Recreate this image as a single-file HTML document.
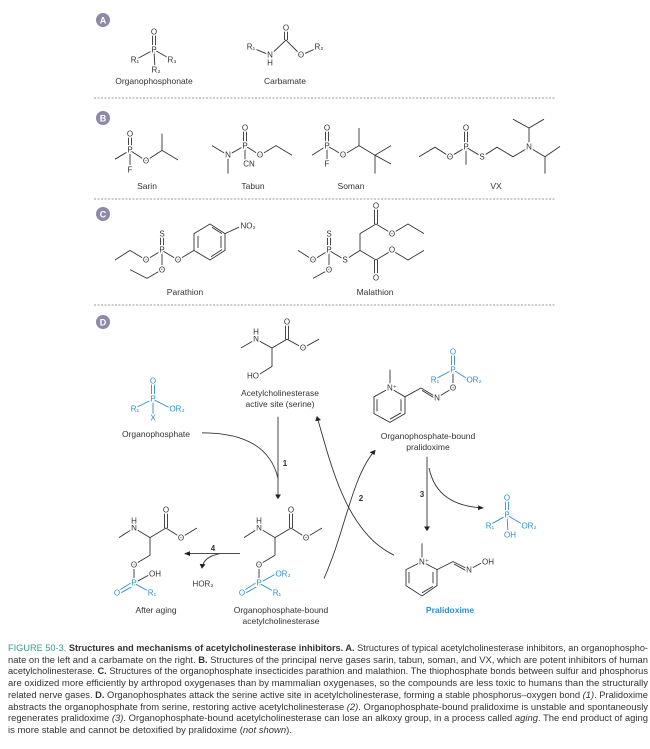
<!DOCTYPE html>
<html><head><meta charset="utf-8"><style>
html,body{margin:0;padding:0;background:#fff;}
svg{display:block;}
.b line,.b polyline,.b path,.b polygon{stroke:#333;stroke-width:0.9;fill:none;vector-effect:non-scaling-stroke;}
.bl line,.bl polyline{stroke:#2a8fd0;stroke-width:0.9;fill:none;vector-effect:non-scaling-stroke;}
text{font-family:"Liberation Sans",sans-serif;}
.a{font-size:8px;fill:#333;text-anchor:middle;dominant-baseline:central;paint-order:stroke;stroke:#fff;stroke-width:3px;}
.ab{font-size:8px;fill:#2a8fd0;text-anchor:middle;dominant-baseline:central;paint-order:stroke;stroke:#fff;stroke-width:3px;}
.l{font-size:8.5px;fill:#333;text-anchor:middle;}
.cap{font-size:9.6px;fill:#333;}
</style></head><body>
<svg width="650" height="749" viewBox="0 0 650 749" xmlns="http://www.w3.org/2000/svg">
<defs><marker id="ar" markerWidth="6" markerHeight="6" refX="5" refY="3" orient="auto" markerUnits="userSpaceOnUse"><path d="M0,0 L6,3 L0,6 Z" fill="#222"/></marker></defs>

<!-- section circles -->
<g font-size="9" font-weight="bold" fill="#fff" text-anchor="middle">
<circle cx="103" cy="20" r="7" fill="#8c8aa8"/><text x="103" y="23.5">A</text>
<circle cx="103" cy="118" r="7" fill="#8c8aa8"/><text x="103" y="121.5">B</text>
<circle cx="103" cy="214" r="7" fill="#8c8aa8"/><text x="103" y="217.5">C</text>
<circle cx="103" cy="322" r="7" fill="#8c8aa8"/><text x="103" y="325.5">D</text>
</g>
<g stroke="#999" stroke-width="1" stroke-dasharray="2,1.5">
<line x1="94" y1="98" x2="556" y2="98"/><line x1="94" y1="199" x2="556" y2="199"/><line x1="94" y1="305" x2="556" y2="305"/>
</g>

<!-- geometry A-C -->
<g transform="matrix(1 0 0 0.8 0 0)">
<g class="b">
<line x1="152.5" y1="40" x2="152.5" y2="62"/><line x1="155.5" y1="40" x2="155.5" y2="62"/>
<polyline points="135,75 154,62 172,75"/><line x1="154" y1="62" x2="155" y2="87"/>
<line x1="284.5" y1="35" x2="284.5" y2="50"/><line x1="287.5" y1="35" x2="287.5" y2="50"/>
<polyline points="251,59 270,69 286,50 301,69 319,59"/><line x1="270" y1="69" x2="270" y2="79"/>

<line x1="128.5" y1="167" x2="128.5" y2="188"/><line x1="131.5" y1="167" x2="131.5" y2="188"/>
<polyline points="115,199 130,188 146,201 162,188 178,200"/><line x1="162" y1="188" x2="162" y2="167"/><line x1="130" y1="188" x2="130" y2="212"/>
<line x1="243.5" y1="160" x2="243.5" y2="182"/><line x1="246.5" y1="160" x2="246.5" y2="182"/>
<polyline points="212,182 228,194 245,182 260,194 276,182 292,194"/><line x1="228" y1="194" x2="228" y2="217"/><line x1="245" y1="182" x2="245" y2="205"/>
<line x1="325.5" y1="160" x2="325.5" y2="182"/><line x1="328.5" y1="160" x2="328.5" y2="182"/>
<polyline points="312,194 327,182 343,194 359,182 375,194 391,182"/><line x1="327" y1="182" x2="327" y2="205"/><line x1="359" y1="182" x2="359" y2="160"/><line x1="375" y1="194" x2="391" y2="205"/><line x1="375" y1="194" x2="375" y2="217"/>
<line x1="464.5" y1="160" x2="464.5" y2="184"/><line x1="467.5" y1="160" x2="467.5" y2="184"/>
<polyline points="419,196 435,184 450,196 466,184 482,196 497,184 513,196 529,184"/><line x1="466" y1="184" x2="466" y2="206"/>
<line x1="529" y1="184" x2="529" y2="160"/><polyline points="513,149 529,160 544,149"/>
<line x1="529" y1="184" x2="545" y2="196"/><line x1="545" y1="196" x2="560" y2="183"/><line x1="545" y1="196" x2="545" y2="217"/>

<line x1="160.5" y1="292" x2="160.5" y2="313"/><line x1="163.5" y1="292" x2="163.5" y2="313"/>
<polyline points="115,325 130,313 146,325 162,313 178,325 194,313"/><line x1="162" y1="313" x2="162" y2="337"/><polyline points="130,337 147,348 162,337"/>
<polygon points="194,292 210,280 225,292 225,313 210,325 194,313"/>
<line x1="198" y1="295" x2="198" y2="310"/><line x1="221" y1="295" x2="221" y2="310"/>
<line x1="211" y1="321" x2="222" y2="312"/><line x1="212" y1="284" x2="222" y2="292"/>
<line x1="225" y1="292" x2="239" y2="284"/>
<line x1="327.5" y1="292" x2="327.5" y2="313"/><line x1="330.5" y1="292" x2="330.5" y2="313"/>
<polyline points="298,313 313,325 329,313 345,325 360,313 360,292 376,280 392,292 408,280 424,292"/>
<line x1="329" y1="313" x2="329" y2="337"/><line x1="313" y1="348" x2="329" y2="337"/>
<line x1="374.5" y1="258" x2="374.5" y2="280"/><line x1="377.5" y1="258" x2="377.5" y2="280"/>
<polyline points="360,313 376,325 392,313 408,325 424,313"/>
<line x1="374.5" y1="325" x2="374.5" y2="348"/><line x1="377.5" y1="325" x2="377.5" y2="348"/>
</g>
</g>

<!-- text A -->
<text class="a" x="154" y="32">O</text><text class="a" x="154" y="50">P</text><text class="a" x="135" y="60">R₁</text><text class="a" x="172" y="60">R₃</text><text class="a" x="156" y="70">R₂</text>
<text class="l" x="154" y="84">Organophosphonate</text>
<text class="a" x="286" y="28">O</text><text class="a" x="251" y="47">R₁</text><text class="a" x="270" y="55">N</text><text class="a" x="270" y="63">H</text><text class="a" x="301" y="55">O</text><text class="a" x="319" y="47">R₂</text>
<text class="l" x="285" y="84">Carbamate</text>

<!-- text B -->
<text class="a" x="130" y="134">O</text><text class="a" x="130" y="150">P</text><text class="a" x="146" y="161">O</text><text class="a" x="130" y="170">F</text>
<text class="a" x="245" y="128">O</text><text class="a" x="245" y="146">P</text><text class="a" x="228" y="155">N</text><text class="a" x="249" y="164">CN</text><text class="a" x="260" y="155">O</text>
<text class="a" x="327" y="128">O</text><text class="a" x="327" y="146">P</text><text class="a" x="343" y="155">O</text><text class="a" x="327" y="164">F</text>
<text class="a" x="466" y="128">O</text><text class="a" x="466" y="147">P</text><text class="a" x="450" y="157">O</text><text class="a" x="482" y="157">S</text><text class="a" x="529" y="147">N</text>
<text class="l" x="147" y="189">Sarin</text><text class="l" x="253" y="189">Tabun</text><text class="l" x="351" y="189">Soman</text><text class="l" x="496" y="189">VX</text>

<!-- text C -->
<text class="a" x="162" y="234">S</text><text class="a" x="162" y="250">P</text><text class="a" x="146" y="260">O</text><text class="a" x="178" y="260">O</text><text class="a" x="162" y="270">O</text><text class="a" x="248" y="226">NO₂</text>
<text class="a" x="329" y="234">S</text><text class="a" x="329" y="250">P</text><text class="a" x="313" y="260">O</text><text class="a" x="329" y="270">O</text><text class="a" x="345" y="260">S</text>
<text class="a" x="376" y="206">O</text><text class="a" x="392" y="234">O</text><text class="a" x="392" y="250">O</text><text class="a" x="376" y="278">O</text>
<text class="l" x="185" y="295">Parathion</text><text class="l" x="375" y="295">Malathion</text>

<!-- geometry D -->
<g transform="matrix(1 0 0 0.8 0 60)">
<g class="b">
<polyline points="241,360 256,349 272,360 287,349 303,360 319,349"/>
<line x1="285.5" y1="327" x2="285.5" y2="349"/><line x1="288.5" y1="327" x2="288.5" y2="349"/>
<polyline points="272,360 272,383 258,394"/>

<line x1="278" y1="446" x2="278" y2="548" marker-end="url(#ar)"/>
<path d="M202,466 C240,466 270,480 278,523"/>

<line x1="390" y1="387" x2="390" y2="410"/>
<polygon points="390,410 405,421 405,442 390,453 374,442 374,421"/>
<line x1="401" y1="424" x2="401" y2="439"/><line x1="377" y1="424" x2="377" y2="439"/><line x1="390" y1="449" x2="401" y2="441"/>
<polyline points="405,421 421,410 437,422 453,410"/><line x1="422" y1="413" x2="435" y2="423"/>
<line x1="453" y1="387" x2="453" y2="410"/>

<path d="M394,619 C345,590 330,500 317,446" marker-end="url(#ar)"/>
<path d="M324,648 C345,590 352,520 375,488" marker-end="url(#ar)"/>
<line x1="427" y1="496" x2="427" y2="588" marker-end="url(#ar)"/>
<path d="M429,510 C435,545 455,558 483,560" marker-end="url(#ar)"/>

<line x1="422" y1="604" x2="422" y2="627"/>
<polygon points="422,627 437,637 437,657 422,670 406,657 406,637"/>
<line x1="433" y1="640" x2="433" y2="654"/><line x1="409" y1="640" x2="409" y2="654"/><line x1="422" y1="666" x2="433" y2="658"/>
<polyline points="437,637 453,627 469,637 484,627"/><line x1="454" y1="630" x2="467" y2="639"/>

<polyline points="244,597 259,585 275,597 291,585 306,597 322,585"/>
<line x1="289.5" y1="563" x2="289.5" y2="585"/><line x1="292.5" y1="563" x2="292.5" y2="585"/>
<polyline points="275,597 275,619 259,631"/><line x1="259" y1="631" x2="259" y2="654"/>

<polyline points="119,597 134,585 150,597 166,585 181,597 197,585"/>
<line x1="164.5" y1="563" x2="164.5" y2="585"/><line x1="167.5" y1="563" x2="167.5" y2="585"/>
<polyline points="150,597 150,619 134,631"/><line x1="134" y1="631" x2="134" y2="654"/><line x1="134" y1="654" x2="150" y2="643"/>

<line x1="240" y1="617" x2="185" y2="617" marker-end="url(#ar)"/>
<path d="M220,617 C208,620 203,626 202,635" marker-end="url(#ar)"/>
</g>
<g class="bl">
<line x1="151.5" y1="401" x2="151.5" y2="424"/><line x1="154.5" y1="401" x2="154.5" y2="424"/>
<polyline points="135,435 153,424 170,435"/><line x1="153" y1="424" x2="153" y2="447"/>
<line x1="451.5" y1="365" x2="451.5" y2="387"/><line x1="454.5" y1="365" x2="454.5" y2="387"/><polyline points="435,399 453,387 468,399"/>
<line x1="505.5" y1="547" x2="505.5" y2="569"/><line x1="508.5" y1="547" x2="508.5" y2="569"/><polyline points="490,581 507,569 522,580"/><line x1="507" y1="569" x2="508" y2="591"/>
<line x1="259" y1="654" x2="275" y2="643"/><line x1="259" y1="654" x2="275" y2="665"/><line x1="244" y1="663" x2="258" y2="652"/><line x1="246" y1="666" x2="260" y2="656"/>
<line x1="134" y1="654" x2="150" y2="665"/><line x1="119" y1="663" x2="133" y2="652"/><line x1="121" y1="666" x2="135" y2="656"/>
</g>
</g>

<!-- text D -->
<text class="a" x="256" y="339">N</text><text class="a" x="256" y="332">H</text><text class="a" x="287" y="322">O</text><text class="a" x="303" y="348">O</text><text class="a" x="253" y="376">HO</text>
<text class="l" x="280" y="396">Acetylcholinesterase</text><text class="l" x="280" y="407">active site (serine)</text>

<text class="ab" x="153" y="381">O</text><text class="ab" x="153" y="399">P</text><text class="ab" x="135" y="409">R₁</text><text class="ab" x="177" y="409">OR₂</text><text class="ab" x="153" y="418">X</text>
<text class="l" x="156" y="437">Organophosphate</text>
<text x="285" y="466" font-size="8" font-weight="bold" fill="#333" text-anchor="middle">1</text>

<text class="a" x="392" y="388">N⁺</text><text class="a" x="437" y="398">N</text><text class="a" x="453" y="388">O</text>
<text class="ab" x="453" y="352">O</text><text class="ab" x="453" y="370">P</text><text class="ab" x="435" y="380">R₁</text><text class="ab" x="474" y="380">OR₂</text>
<text class="l" x="428" y="439">Organophosphate-bound</text><text class="l" x="428" y="450">pralidoxime</text>

<text x="361" y="501" font-size="8" font-weight="bold" fill="#333" text-anchor="middle">2</text>
<text x="422" y="497" font-size="8" font-weight="bold" fill="#333" text-anchor="middle">3</text>

<text class="ab" x="507" y="498">O</text><text class="ab" x="507" y="515">P</text><text class="ab" x="490" y="526">R₁</text><text class="ab" x="529" y="526">OR₂</text><text class="ab" x="510" y="535">OH</text>

<text class="a" x="424" y="562">N⁺</text><text class="a" x="469" y="570">N</text><text class="a" x="488" y="562">OH</text>
<text x="450" y="613" font-size="8.5" font-weight="bold" fill="#2a8fd0" text-anchor="middle">Pralidoxime</text>

<text class="a" x="259" y="528">N</text><text class="a" x="259" y="521">H</text><text class="a" x="291" y="510">O</text><text class="a" x="306" y="538">O</text><text class="a" x="259" y="565">O</text>
<text class="ab" x="259" y="583">P</text><text class="ab" x="283" y="574">OR₂</text><text class="ab" x="242" y="593">O</text><text class="ab" x="277" y="593">R₁</text>
<text class="l" x="281" y="613">Organophosphate-bound</text><text class="l" x="281" y="624">acetylcholinesterase</text>

<text class="a" x="134" y="528">N</text><text class="a" x="134" y="521">H</text><text class="a" x="166" y="510">O</text><text class="a" x="181" y="538">O</text><text class="a" x="134" y="565">O</text><text class="a" x="155" y="574">OH</text>
<text class="ab" x="134" y="583">P</text><text class="ab" x="117" y="593">O</text><text class="ab" x="152" y="593">R₁</text>
<text class="l" x="156" y="613">After aging</text>

<text x="213" y="551" font-size="8" font-weight="bold" fill="#333" text-anchor="middle">4</text>
<text class="a" x="203" y="584">HOR₂</text>

<!-- caption -->
<g class="cap">
<text x="8" y="651" textLength="640" lengthAdjust="spacingAndGlyphs"><tspan fill="#3a9a8a">FIGURE 50-3.</tspan> <tspan font-weight="bold">Structures and mechanisms of acetylcholinesterase inhibitors. A.</tspan> Structures of typical acetylcholinesterase inhibitors, an organophospho-</text>
<text x="8" y="663" textLength="640" lengthAdjust="spacingAndGlyphs">nate on the left and a carbamate on the right. <tspan font-weight="bold">B.</tspan> Structures of the principal nerve gases sarin, tabun, soman, and VX, which are potent inhibitors of human</text>
<text x="8" y="674" textLength="640" lengthAdjust="spacingAndGlyphs">acetylcholinesterase. <tspan font-weight="bold">C.</tspan> Structures of the organophosphate insecticides parathion and malathion. The thiophosphate bonds between sulfur and phosphorus</text>
<text x="8" y="686" textLength="640" lengthAdjust="spacingAndGlyphs">are oxidized more efficiently by arthropod oxygenases than by mammalian oxygenases, so the compounds are less toxic to humans than the structurally</text>
<text x="8" y="698" textLength="640" lengthAdjust="spacingAndGlyphs">related nerve gases. <tspan font-weight="bold">D.</tspan> Organophosphates attack the serine active site in acetylcholinesterase, forming a stable phosphorus–oxygen bond <tspan font-style="italic">(1)</tspan>. Pralidoxime</text>
<text x="8" y="710" textLength="640" lengthAdjust="spacingAndGlyphs">abstracts the organophosphate from serine, restoring active acetylcholinesterase <tspan font-style="italic">(2)</tspan>. Organophosphate-bound pralidoxime is unstable and spontaneously</text>
<text x="8" y="721" textLength="640" lengthAdjust="spacingAndGlyphs">regenerates pralidoxime <tspan font-style="italic">(3)</tspan>. Organophosphate-bound acetylcholinesterase can lose an alkoxy group, in a process called <tspan font-style="italic">aging</tspan>. The end product of aging</text>
<text x="8" y="733" textLength="284" lengthAdjust="spacingAndGlyphs">is more stable and cannot be detoxified by pralidoxime (<tspan font-style="italic">not shown</tspan>).</text>
</g>
</svg>
</body></html>
